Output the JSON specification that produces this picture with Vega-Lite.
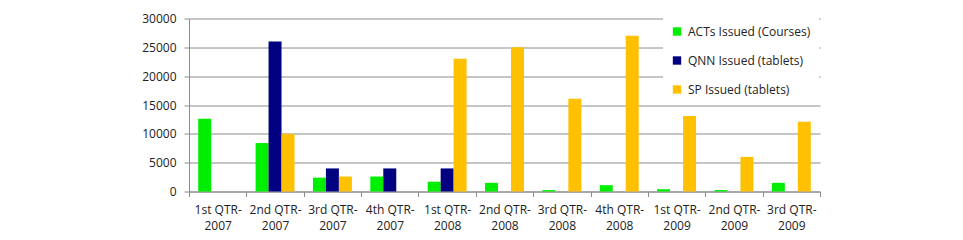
{
  "$schema": "https://vega.github.io/schema/vega-lite/v6.json",
  "autosize": "none",
  "width": 631,
  "height": 173,
  "padding": {"left": 189, "top": 18.5, "right": 143, "bottom": 48.5},
  "background": "white",
  "config": {
    "font": "Open Sans",
    "view": {"stroke": null},
    "axis": {"labelFont": "Open Sans", "labelColor": "#222222", "labelFontSize": 12}
  },
  "data": {
    "values": [
      {"q": "1st QTR-2007", "s": "ACTs Issued (Courses)", "v": 12600},
      {"q": "1st QTR-2007", "s": "QNN Issued (tablets)", "v": 0},
      {"q": "1st QTR-2007", "s": "SP Issued (tablets)", "v": 0},
      {"q": "2nd QTR-2007", "s": "ACTs Issued (Courses)", "v": 8400},
      {"q": "2nd QTR-2007", "s": "QNN Issued (tablets)", "v": 26000},
      {"q": "2nd QTR-2007", "s": "SP Issued (tablets)", "v": 10000},
      {"q": "3rd QTR-2007", "s": "ACTs Issued (Courses)", "v": 2400},
      {"q": "3rd QTR-2007", "s": "QNN Issued (tablets)", "v": 4000},
      {"q": "3rd QTR-2007", "s": "SP Issued (tablets)", "v": 2600},
      {"q": "4th QTR-2007", "s": "ACTs Issued (Courses)", "v": 2600},
      {"q": "4th QTR-2007", "s": "QNN Issued (tablets)", "v": 4000},
      {"q": "4th QTR-2007", "s": "SP Issued (tablets)", "v": 0},
      {"q": "1st QTR-2008", "s": "ACTs Issued (Courses)", "v": 1700},
      {"q": "1st QTR-2008", "s": "QNN Issued (tablets)", "v": 4000},
      {"q": "1st QTR-2008", "s": "SP Issued (tablets)", "v": 23000},
      {"q": "2nd QTR-2008", "s": "ACTs Issued (Courses)", "v": 1500},
      {"q": "2nd QTR-2008", "s": "QNN Issued (tablets)", "v": 0},
      {"q": "2nd QTR-2008", "s": "SP Issued (tablets)", "v": 25000},
      {"q": "3rd QTR-2008", "s": "ACTs Issued (Courses)", "v": 250},
      {"q": "3rd QTR-2008", "s": "QNN Issued (tablets)", "v": 0},
      {"q": "3rd QTR-2008", "s": "SP Issued (tablets)", "v": 16100},
      {"q": "4th QTR-2008", "s": "ACTs Issued (Courses)", "v": 1100},
      {"q": "4th QTR-2008", "s": "QNN Issued (tablets)", "v": 0},
      {"q": "4th QTR-2008", "s": "SP Issued (tablets)", "v": 27000},
      {"q": "1st QTR-2009", "s": "ACTs Issued (Courses)", "v": 400},
      {"q": "1st QTR-2009", "s": "QNN Issued (tablets)", "v": 0},
      {"q": "1st QTR-2009", "s": "SP Issued (tablets)", "v": 13100},
      {"q": "2nd QTR-2009", "s": "ACTs Issued (Courses)", "v": 250},
      {"q": "2nd QTR-2009", "s": "QNN Issued (tablets)", "v": 0},
      {"q": "2nd QTR-2009", "s": "SP Issued (tablets)", "v": 6000},
      {"q": "3rd QTR-2009", "s": "ACTs Issued (Courses)", "v": 1500},
      {"q": "3rd QTR-2009", "s": "QNN Issued (tablets)", "v": 0},
      {"q": "3rd QTR-2009", "s": "SP Issued (tablets)", "v": 12100}
    ]
  },
  "mark": {"type": "bar"},
  "encoding": {
    "x": {
      "field": "q",
      "type": "nominal",
      "sort": null,
      "scale": {"paddingInner": 0, "paddingOuter": 0},
      "axis": {
        "title": null,
        "labelAngle": 0,
        "labelExpr": "[slice(datum.label,0,8), slice(datum.label,8)]",
        "labelLineHeight": 16,
        "labelPadding": 8,
        "tickBand": "extent",
        "tickSize": 5,
        "tickColor": "#8c8c8c",
        "domainColor": "#8c8c8c",
        "grid": false
      }
    },
    "xOffset": {
      "field": "s",
      "type": "nominal",
      "scale": {"domain": ["ACTs Issued (Courses)", "QNN Issued (tablets)", "SP Issued (tablets)"], "paddingInner": 0, "paddingOuter": 0.71}
    },
    "y": {
      "field": "v",
      "type": "quantitative",
      "scale": {"domain": [0, 30000]},
      "axis": {
        "title": null,
        "values": [0, 5000, 10000, 15000, 20000, 25000, 30000],
        "format": "d",
        "gridColor": "#8c8c8c",
        "domainColor": "#8c8c8c",
        "tickColor": "#8c8c8c",
        "tickSize": 5,
        "labelPadding": 8
      }
    },
    "color": {
      "field": "s",
      "type": "nominal",
      "scale": {
        "domain": ["ACTs Issued (Courses)", "QNN Issued (tablets)", "SP Issued (tablets)"],
        "range": ["#00ee00", "#000080", "#ffc000"]
      },
      "legend": {
        "title": null,
        "orient": "none",
        "legendX": 474,
        "legendY": -1,
        "fillColor": "white",
        "padding": 8,
        "symbolType": "square",
        "symbolSize": 70,
        "symbolStrokeWidth": 0,
        "labelFont": "Open Sans",
        "labelFontSize": 12,
        "labelColor": "#222222",
        "rowPadding": 17,
        "labelOffset": 5
      }
    }
  }
}
